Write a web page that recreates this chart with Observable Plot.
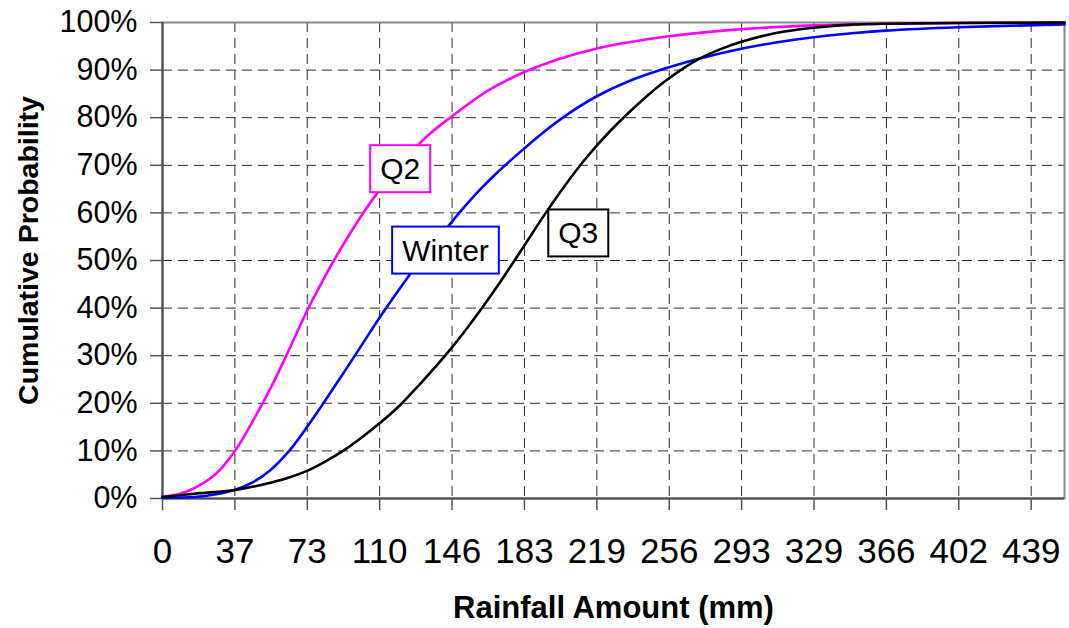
<!DOCTYPE html>
<html><head><meta charset="utf-8">
<script src="https://cdn.jsdelivr.net/npm/d3@7"></script>
<script src="https://cdn.jsdelivr.net/npm/@observablehq/plot@0.6"></script>
<style>
html,body{margin:0;padding:0;background:#fff;}
#chart svg{display:block;}
</style></head><body><div id="chart"></div>
<script>
// ---- data ----
const xTicks = [0, 36.58, 73.16, 109.74, 146.32, 182.9, 219.48, 256.06, 292.64, 329.22, 365.8, 402.38, 438.96];
const xTickLabels = ["0","37","73","110","146","183","219","256","293","329","366","402","439"];
const xMax = 455.8;
const yTicks = [0,10,20,30,40,50,60,70,80,90,100];

const seriesNames = ["Q2","Winter","Q3"];
const seriesColors = ["#ff00ff","#0000ff","#000000"];

const q2X = [0, 9, 18, 27, 36.6, 45, 55, 64, 73, 80, 86.6, 101, 110, 120, 128.7, 137, 146, 156, 165.7, 184, 200, 219, 236.5, 256, 293, 329, 366, 402, 455.8];
const q2Y = [0.4, 1.0, 2.6, 5.2, 10, 15.8, 23.5, 31.3, 39.4, 45, 50, 59.7, 65, 70.2, 74.1, 77.3, 80.2, 83.3, 86, 89.8, 92.3, 94.5, 95.9, 97.1, 98.6, 99.4, 99.75, 99.9, 100];

const winterX = [0, 16, 27, 37, 46, 54.6, 64, 73, 80, 86.6, 100, 110, 124, 134, 144, 152, 160.7, 170, 182.7, 192.7, 205, 219, 236.5, 256, 270, 292.5, 310, 329, 347, 365.5, 402, 455.8];
const winterY = [0.1, 0.3, 0.9, 1.9, 3.5, 6, 10, 15, 19.2, 23.3, 31.8, 38.2, 46.5, 52, 57, 61, 65, 68.8, 73.5, 77, 80.8, 84.4, 87.8, 90.6, 92.3, 94.5, 95.8, 96.9, 97.7, 98.3, 99.0, 99.6];

const q3X = [0, 16, 37, 46, 54.6, 64, 73, 82, 91.6, 100, 110, 120, 130, 138, 146, 153, 160.7, 171, 182.6, 193.5, 204.5, 215, 226, 236.5, 246, 256, 270, 282, 293, 310, 329, 347, 365.5, 402, 455.8];
const q3Y = [0.3, 1.0, 1.8, 2.5, 3.3, 4.4, 5.8, 7.7, 10.1, 12.6, 15.9, 19.6, 24.0, 27.7, 31.6, 35.3, 39.6, 45.7, 53.0, 59.9, 66.4, 72, 77.1, 81.4, 85, 88.3, 92.1, 94.4, 96, 97.8, 98.9, 99.5, 99.75, 99.9, 100];

// series label boxes (centre, in data units)
const labelX = [120.1, 143.0, 210.1];
const labelY = [69.1, 52.0, 55.6];

const xTitle = "Rainfall Amount (mm)";
const yTitle = "Cumulative Probability";

// ---- build tables ----
const rows = [];
[[q2X,q2Y],[winterX,winterY],[q3X,q3Y]].forEach(([xs,ys],k) => {
  xs.forEach((x,i) => rows.push({series: seriesNames[k], x, y: ys[i]}));
});
const labels = seriesNames.map((n,i) => ({name:n, x:labelX[i], y:labelY[i], color:seriesColors[i]}));
const tickLabelMap = new Map(xTicks.map((t,i) => [t, xTickLabels[i]]));

const font = "'Liberation Sans', Arial, Helvetica, sans-serif";
const gridStroke = "#2a2a2a";

const chart = Plot.plot({
  width: 1069, height: 628,
  marginLeft: 162, marginRight: 5, marginTop: 22, marginBottom: 130,
  style: {fontFamily: font, background: "#fff", overflow: "visible", color: "#000"},
  x: {domain: [0, xMax]},
  y: {domain: [0, 100]},
  color: {domain: seriesNames, range: seriesColors},
  marks: [
    Plot.gridX(xTicks.slice(1), {stroke: gridStroke, strokeOpacity: 1, strokeWidth: 1, strokeDasharray: "10,6"}),
    Plot.gridY(yTicks.slice(1, -1), {stroke: gridStroke, strokeOpacity: 1, strokeWidth: 1, strokeDasharray: "10,6"}),
    Plot.frame({stroke: "#8a8a8a", strokeWidth: 2}),
    Plot.ruleX([0], {stroke: "#4a4a4a", strokeWidth: 2}),
    Plot.ruleY([0], {stroke: "#4a4a4a", strokeWidth: 2}),
    Plot.axisX(xTicks, {tickSize: 12, tickPadding: 28, fontSize: 35, stroke: "#555", strokeWidth: 1.5,
      tickFormat: d => tickLabelMap.get(d), label: null}),
    Plot.axisY(yTicks, {tickSize: 12, tickPadding: 13, fontSize: 30.5, stroke: "#555", strokeWidth: 1.5,
      tickFormat: d => d + "%", label: null}),
    Plot.line(rows, {x: "x", y: "y", z: "series", stroke: "series", strokeWidth: 2.6, curve: "catmull-rom"}),
    Plot.text(labels, {x: "x", y: "y", text: "name", fontSize: 30, fill: "#000", ariaDescription: "series-label"}),
    Plot.text([yTitle], {frameAnchor: "left", dx: -134, dy: -10, rotate: -90, textAnchor: "middle", lineAnchor: "middle", fontSize: 28.5, fontWeight: "bold"}),
    Plot.text([xTitle], {frameAnchor: "bottom", dy: 110, textAnchor: "middle", lineAnchor: "middle", fontSize: 31, fontWeight: "bold"})
  ]
});

document.getElementById("chart").appendChild(chart);

// draw boxes around series labels (white fill, series-coloured border)
const svgNS = "http://www.w3.org/2000/svg";
let labelTexts = [];
const labelGroup = chart.querySelector('g[aria-description="series-label"]');
if (labelGroup) labelTexts = Array.from(labelGroup.querySelectorAll("text"));
if (labelTexts.length !== labels.length) {
  labelTexts = Array.from(chart.querySelectorAll("text")).filter(t =>
    seriesNames.includes(t.textContent) && !t.closest('g[aria-label$="axis"]') && !t.closest('g[aria-label*="tick"]'));
}
labelTexts.forEach(t => {
  const idx = seriesNames.indexOf(t.textContent);
  const bb = t.getBBox();
  const padX = 10, padY = 7;
  const r = document.createElementNS(svgNS, "rect");
  r.setAttribute("x", bb.x - padX);
  r.setAttribute("y", bb.y - padY);
  r.setAttribute("width", bb.width + 2 * padX);
  r.setAttribute("height", bb.height + 2 * padY);
  r.setAttribute("fill", "#fff");
  r.setAttribute("stroke", seriesColors[idx]);
  r.setAttribute("stroke-width", 2);
  const tr = t.getAttribute("transform");
  if (tr) r.setAttribute("transform", tr);
  t.parentNode.insertBefore(r, t);
});
</script>
</body></html>
